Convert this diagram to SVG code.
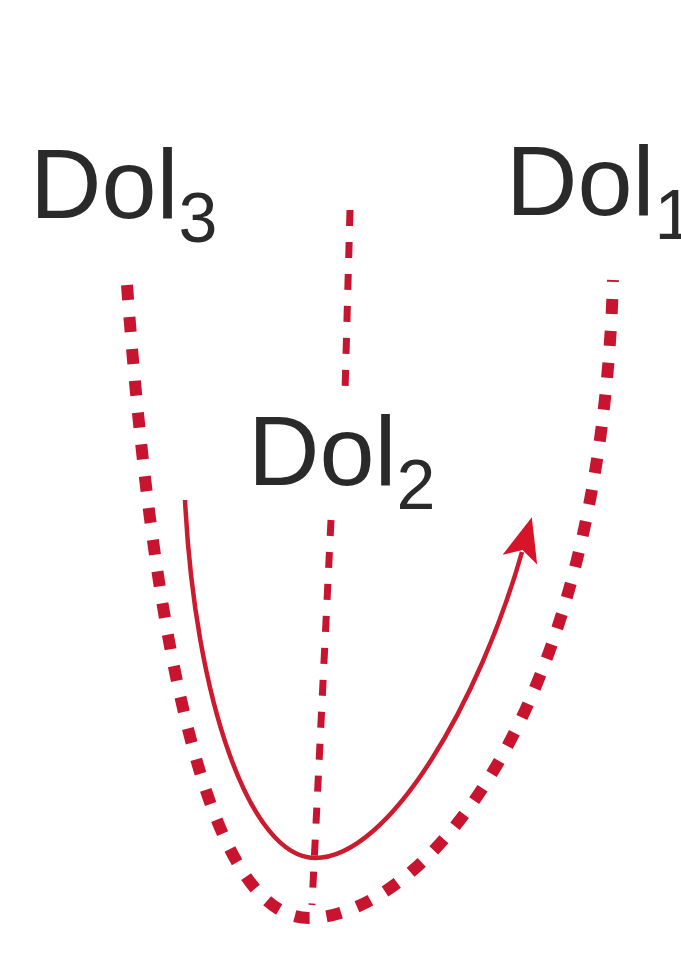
<svg xmlns="http://www.w3.org/2000/svg" width="681" height="955" viewBox="0 0 681 955">
<style>
.lbl{font-family:"Liberation Sans",Arial,sans-serif;fill:#2a2a2a;font-size:99px}
.sub{font-size:70px}
.dot{fill:none;stroke:#c8142f;stroke-width:12;stroke-dasharray:15 17}
.axis{fill:none;stroke:#c8142f;stroke-width:7;stroke-dasharray:16 16}
.solid{fill:none;stroke:#cc1a2e;stroke-width:4.5}
</style>
<defs>
<marker id="ah" markerUnits="userSpaceOnUse" markerWidth="50" markerHeight="40" refX="8" refY="18" orient="auto">
<path d="M0,0 L44,18 L0,36 L10,18 Z" fill="#d8142a"/>
</marker>
</defs>
<rect width="681" height="955" fill="#ffffff"/>
<g id="connectors">
<path class="dot" d="M127,285 C150,600 200,920 310,918 C420,916 600,720 613,280"/>
<path class="axis" d="M350,210 L345,392"/>
<path class="axis" d="M331,520 L312,905"/>
<path class="solid" d="M185,500 C195,700 250,858 315,858 C390,858 480,700 522,552" marker-end="url(#ah)"/>
</g>
<g id="dol3"><text class="lbl" x="30" y="218">Dol<tspan class="sub" dy="24">3</tspan></text></g>
<g id="dol1"><text class="lbl" x="506" y="215">Dol<tspan class="sub" dy="24">1</tspan></text></g>
<g id="dol2"><text class="lbl" x="248" y="485">Dol<tspan class="sub" dy="24">2</tspan></text></g>
</svg>
